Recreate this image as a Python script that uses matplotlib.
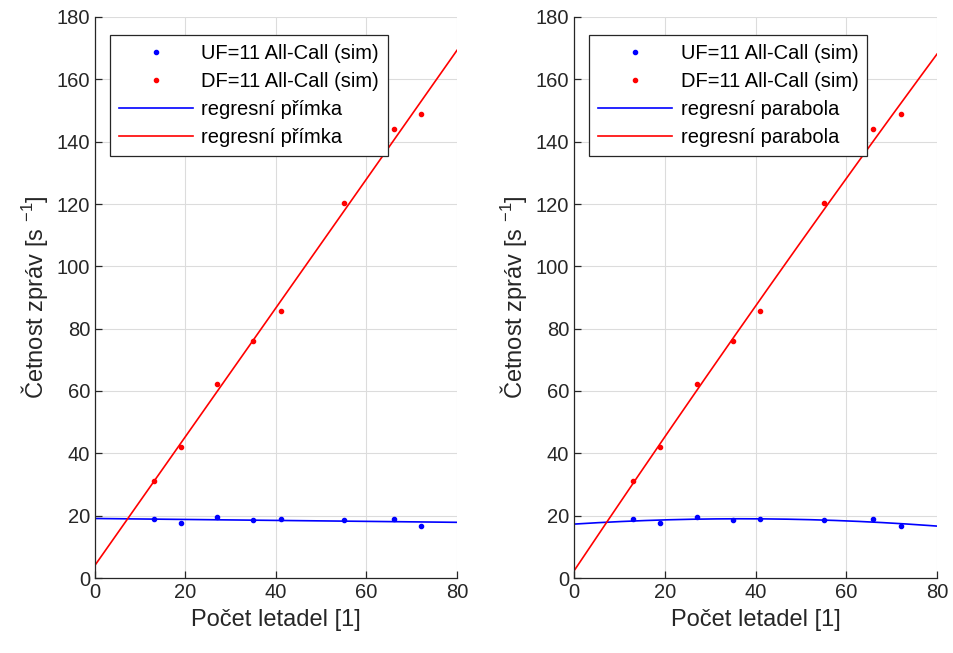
import numpy as np
import matplotlib
matplotlib.use("Agg")
import matplotlib.pyplot as plt

plt.rcParams['font.family'] = ['Liberation Sans', 'DejaVu Sans']
plt.rcParams['mathtext.fontset'] = 'custom'
plt.rcParams['mathtext.rm'] = 'Liberation Sans'
plt.rcParams['mathtext.it'] = 'Liberation Sans'

# Data
n_aircraft = [13, 19, 27, 35, 41, 55, 66, 72]
uf_rate = [18.9, 17.6, 19.5, 18.6, 18.9, 18.6, 18.9, 16.7]
df_rate = [31.1, 42.0, 62.2, 76.0, 85.7, 120.3, 144.0, 148.9]

xticks = [0, 20, 40, 60, 80]
yticks = [0, 20, 40, 60, 80, 100, 120, 140, 160, 180]

uf_label = 'UF=11 All-Call (sim)'
df_label = 'DF=11 All-Call (sim)'
fit_labels = ['regresní přímka', 'regresní parabola']
fit_degrees = [1, 2]
xlabel = 'Počet letadel [1]'
ylabel = 'Četnost zpráv [s $^{-1}$]'

textc = '#262626'
fig = plt.figure(figsize=(9.54, 6.53), dpi=100)
positions = [[95/954, 1-578/653, (457-95)/954, (578-17)/653],
             [574/954, 1-578/653, (937-574)/954, (578-17)/653]]

x = np.array(n_aircraft, dtype=float)
xs = np.linspace(0, 80, 200)
for pos, deg, flab in zip(positions, fit_degrees, fit_labels):
    ax = fig.add_axes(pos)
    ax.plot(x, uf_rate, '.', color='blue', markersize=6, label=uf_label)
    ax.plot(x, df_rate, '.', color='red', markersize=6, label=df_label)
    pu = np.polyfit(x, uf_rate, deg)
    pd_ = np.polyfit(x, df_rate, deg)
    ax.plot(xs, np.polyval(pu, xs), color='blue', lw=1.2, label=flab)
    ax.plot(xs, np.polyval(pd_, xs), color='red', lw=1.2, label=flab)
    ax.set_xlim(0, 80)
    ax.set_ylim(0, 180)
    ax.set_xticks(xticks)
    ax.set_yticks(yticks)
    ax.grid(True, color='#dcdcdc', lw=0.8)
    ax.set_axisbelow(True)
    for s in ['top', 'right']:
        ax.spines[s].set_visible(False)
    for s in ['left', 'bottom']:
        ax.spines[s].set_color(textc)
        ax.spines[s].set_linewidth(0.9)
    ax.tick_params(direction='in', length=5, colors=textc, labelsize=14.5, width=0.9)
    ax.set_xlabel(xlabel, fontsize=17, color=textc, labelpad=5)
    ax.set_ylabel(ylabel, fontsize=17, color=textc, labelpad=5)
    leg = ax.legend(loc='upper left', bbox_to_anchor=(0.041, 0.968), fontsize=14.5,
                    frameon=True, fancybox=False, edgecolor=textc, framealpha=1,
                    handlelength=3.7, borderpad=0.45, labelspacing=0.45,
                    handletextpad=0.4, markerscale=1.0, borderaxespad=0)
    leg.get_frame().set_linewidth(0.9)
    for t in leg.get_texts():
        t.set_color('black')

fig.savefig('out.png', dpi=100)
